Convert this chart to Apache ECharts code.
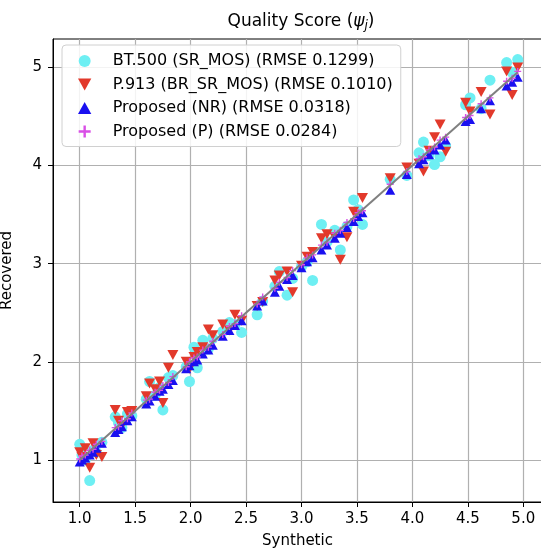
<!DOCTYPE html>
<html>
<head>
<meta charset="utf-8">
<script src="https://cdn.jsdelivr.net/npm/echarts@6/dist/echarts.min.js"></script>
<style>
  html, body { margin: 0; padding: 0; background: #fff; }
  #chart { width: 541px; height: 551px; }
</style>
</head>
<body>
<div id="chart"></div>
<script>
// synthetic scores (x), shared by all four series
const synthetic = [
  1.00, 1.02, 1.05, 1.09, 1.12, 1.15, 1.20, 1.32, 1.35, 1.38, 1.43, 1.47,
  1.60, 1.63, 1.68, 1.72, 1.75, 1.80, 1.84, 1.96, 1.99, 2.03, 2.06, 2.11,
  2.16, 2.20, 2.29, 2.35, 2.40, 2.46, 2.60, 2.65, 2.76, 2.80, 2.87, 2.92,
  3.00, 3.05, 3.10, 3.18, 3.23, 3.30, 3.35, 3.41, 3.47, 3.51, 3.55, 3.80,
  3.95, 4.06, 4.10, 4.15, 4.20, 4.25, 4.30, 4.48, 4.52, 4.62, 4.70, 4.85,
  4.90, 4.95
];

const bt500 = [
  1.16, 1.05, 1.00, 0.79, 1.10, 1.08, 1.18, 1.44, 1.38, 1.33, 1.47, 1.45,
  1.62, 1.80, 1.66, 1.74, 1.51, 1.84, 1.86, 1.95, 1.80, 2.15, 1.94, 2.22,
  2.13, 2.24, 2.31, 2.40, 2.38, 2.30, 2.48, 2.62, 2.77, 2.92, 2.68, 2.85,
  2.97, 3.02, 2.83, 3.40, 3.22, 3.34, 3.14, 3.38, 3.65, 3.55, 3.40, 3.86,
  3.90, 4.13, 4.24, 4.10, 4.01, 4.09, 4.20, 4.62, 4.69, 4.58, 4.87, 5.05,
  4.95, 5.08
];

const p913 = [
  1.08, 1.03, 1.12, 0.92, 1.17, 1.05, 1.03, 1.51, 1.40, 1.35, 1.49, 1.50,
  1.65, 1.78, 1.72, 1.80, 1.58, 1.94, 2.07, 2.00, 1.93, 2.05, 2.10, 2.15,
  2.33, 2.27, 2.38, 2.32, 2.48, 2.42, 2.57, 2.61, 2.83, 2.88, 2.92, 2.71,
  2.98, 3.07, 3.12, 3.26, 3.30, 3.27, 3.04, 3.27, 3.53, 3.50, 3.67, 3.87,
  3.98, 4.02, 3.94, 4.15, 4.29, 4.42, 4.14, 4.64, 4.55, 4.75, 4.52, 4.96,
  4.72, 5.00
];

const proposedNR = [
  0.98, 1.00, 1.02, 1.05, 1.08, 1.12, 1.17, 1.28, 1.31, 1.34, 1.40, 1.44,
  1.57, 1.60, 1.65, 1.70, 1.72, 1.77, 1.81, 1.93, 1.96, 2.00, 2.02, 2.08,
  2.12, 2.17, 2.26, 2.32, 2.37, 2.42, 2.57, 2.62, 2.71, 2.77, 2.84, 2.88,
  2.96, 3.02, 3.06, 3.14, 3.19, 3.26, 3.31, 3.37, 3.43, 3.48, 3.52, 3.75,
  3.91, 4.02, 4.06, 4.11, 4.16, 4.21, 4.26, 4.45, 4.47, 4.58, 4.66, 4.81,
  4.85, 4.90
];

const proposedP = [
  1.01, 1.04, 1.05, 1.10, 1.11, 1.16, 1.19, 1.33, 1.34, 1.40, 1.42, 1.48,
  1.61, 1.62, 1.69, 1.71, 1.76, 1.79, 1.85, 1.95, 2.00, 2.04, 2.05, 2.12,
  2.15, 2.21, 2.28, 2.36, 2.39, 2.47, 2.59, 2.66, 2.75, 2.81, 2.86, 2.93,
  2.99, 3.06, 3.09, 3.19, 3.22, 3.31, 3.34, 3.42, 3.46, 3.52, 3.54, 3.81,
  3.94, 4.07, 4.09, 4.16, 4.19, 4.26, 4.29, 4.49, 4.51, 4.63, 4.69, 4.86,
  4.89, 4.96
];

const identityLine = [1.0, 4.95];
const xTicks = [1.0, 1.5, 2.0, 2.5, 3.0, 3.5, 4.0, 4.5, 5.0];
const yTicks = [1, 2, 3, 4, 5];

const seriesNames = [
  "BT.500 (SR_MOS) (RMSE 0.1299)",
  "P.913 (BR_SR_MOS) (RMSE 0.1010)",
  "Proposed (NR) (RMSE 0.0318)",
  "Proposed (P) (RMSE 0.0284)",
];

const FONT = "DejaVu Sans";
const TRI_DOWN = "path://M0,0 L10,0 L5,9 Z";
const TRI_UP = "path://M5,0 L10,9 L0,9 Z";
const PLUS = "path://M4,0 H6 V4 H10 V6 H6 V10 H4 V6 H0 V4 H4 Z";

const pairs = (ys) => synthetic.map((x, i) => [x, ys[i]]);

const chart = echarts.init(document.getElementById("chart"), null, { renderer: "canvas" });

const axisCommon = {
  axisLine: { show: true, lineStyle: { color: "#000", width: 1 } },
  axisTick: { show: true, length: 5, lineStyle: { color: "#000" } },
  splitLine: { show: true, lineStyle: { color: "#b0b0b0", width: 1.2 } },
  nameTextStyle: { fontFamily: FONT, fontSize: 15, color: "#000" },
};

chart.setOption({
  animation: false,
  backgroundColor: "#fff",
  title: {
    text: "{t|Quality Score (}{i|ψ}{s|j}{t|)}",
    left: 296,
    textAlign: "center",
    top: 7,
    textStyle: {
      fontWeight: "normal",
      rich: {
        t: { fontFamily: FONT, fontSize: 17, fontWeight: "normal", color: "#000" },
        i: { fontFamily: FONT, fontSize: 17, fontWeight: "normal", fontStyle: "italic", color: "#000" },
        s: { fontFamily: FONT, fontSize: 12, fontWeight: "normal", fontStyle: "italic", color: "#000", padding: [8, 0, 0, 0] },
      },
    },
  },
  grid: {
    left: 53, top: 39, right: -1, bottom: 49,
    outerBoundsMode: "none",
    containLabel: false,
    show: true, borderColor: "#000", borderWidth: 1,
  },
  legend: {
    orient: "vertical",
    left: 62,
    top: 45,
    padding: [8, 8, 7, 16],
    itemWidth: 14,
    itemHeight: 12,
    itemGap: 7.5,
    backgroundColor: "rgba(255,255,255,0.85)",
    borderColor: "#d0d0d0",
    borderWidth: 1,
    borderRadius: 4,
    textStyle: { fontFamily: FONT, fontSize: 16, lineHeight: 16, color: "#000", padding: [0, 0, 0, 16] },
    data: [
      { name: seriesNames[0], icon: "circle" },
      { name: seriesNames[1], icon: TRI_DOWN },
      { name: seriesNames[2], icon: TRI_UP },
      { name: seriesNames[3], icon: PLUS },
    ],
  },
  xAxis: {
    ...axisCommon,
    type: "value",
    min: 0.759,
    max: 5.169,
    name: "Synthetic",
    nameLocation: "middle",
    nameGap: 32,
    axisTick: { ...axisCommon.axisTick, customValues: xTicks },
    axisLabel: {
      customValues: xTicks,
      margin: 10,
      fontFamily: FONT, fontSize: 15, color: "#000",
      formatter: (v) => v.toFixed(1),
    },
  },
  yAxis: {
    ...axisCommon,
    type: "value",
    min: 0.572,
    max: 5.29,
    name: "Recovered",
    nameLocation: "middle",
    nameGap: 38,
    axisTick: { ...axisCommon.axisTick, customValues: yTicks },
    axisLabel: {
      customValues: yTicks,
      margin: 11,
      fontFamily: FONT, fontSize: 15, color: "#000",
    },
  },
  series: [
    {
      name: seriesNames[0], type: "scatter", data: pairs(bt500),
      symbol: "circle", symbolSize: 11,
      itemStyle: { color: "#6eeff3", opacity: 1 }, z: 2,
    },
    {
      name: seriesNames[1], type: "scatter", data: pairs(p913),
      symbol: TRI_DOWN, symbolSize: [11, 10],
      itemStyle: { color: "#e2392b", opacity: 1 }, z: 3,
    },
    {
      name: seriesNames[2], type: "scatter", data: pairs(proposedNR),
      symbol: TRI_UP, symbolSize: [10, 9],
      itemStyle: { color: "#1a10f0", opacity: 1 }, z: 4,
    },
    {
      name: seriesNames[3], type: "scatter", data: pairs(proposedP),
      symbol: PLUS, symbolSize: 7,
      itemStyle: { color: "#d94fe6", opacity: 1 }, z: 5,
    },
    {
      name: "identity", type: "line",
      data: identityLine.map((v) => [v, v]),
      symbol: "none", silent: true,
      lineStyle: { color: "#808080", width: 2 }, z: 6,
    },
  ],
});
</script>
</body>
</html>
